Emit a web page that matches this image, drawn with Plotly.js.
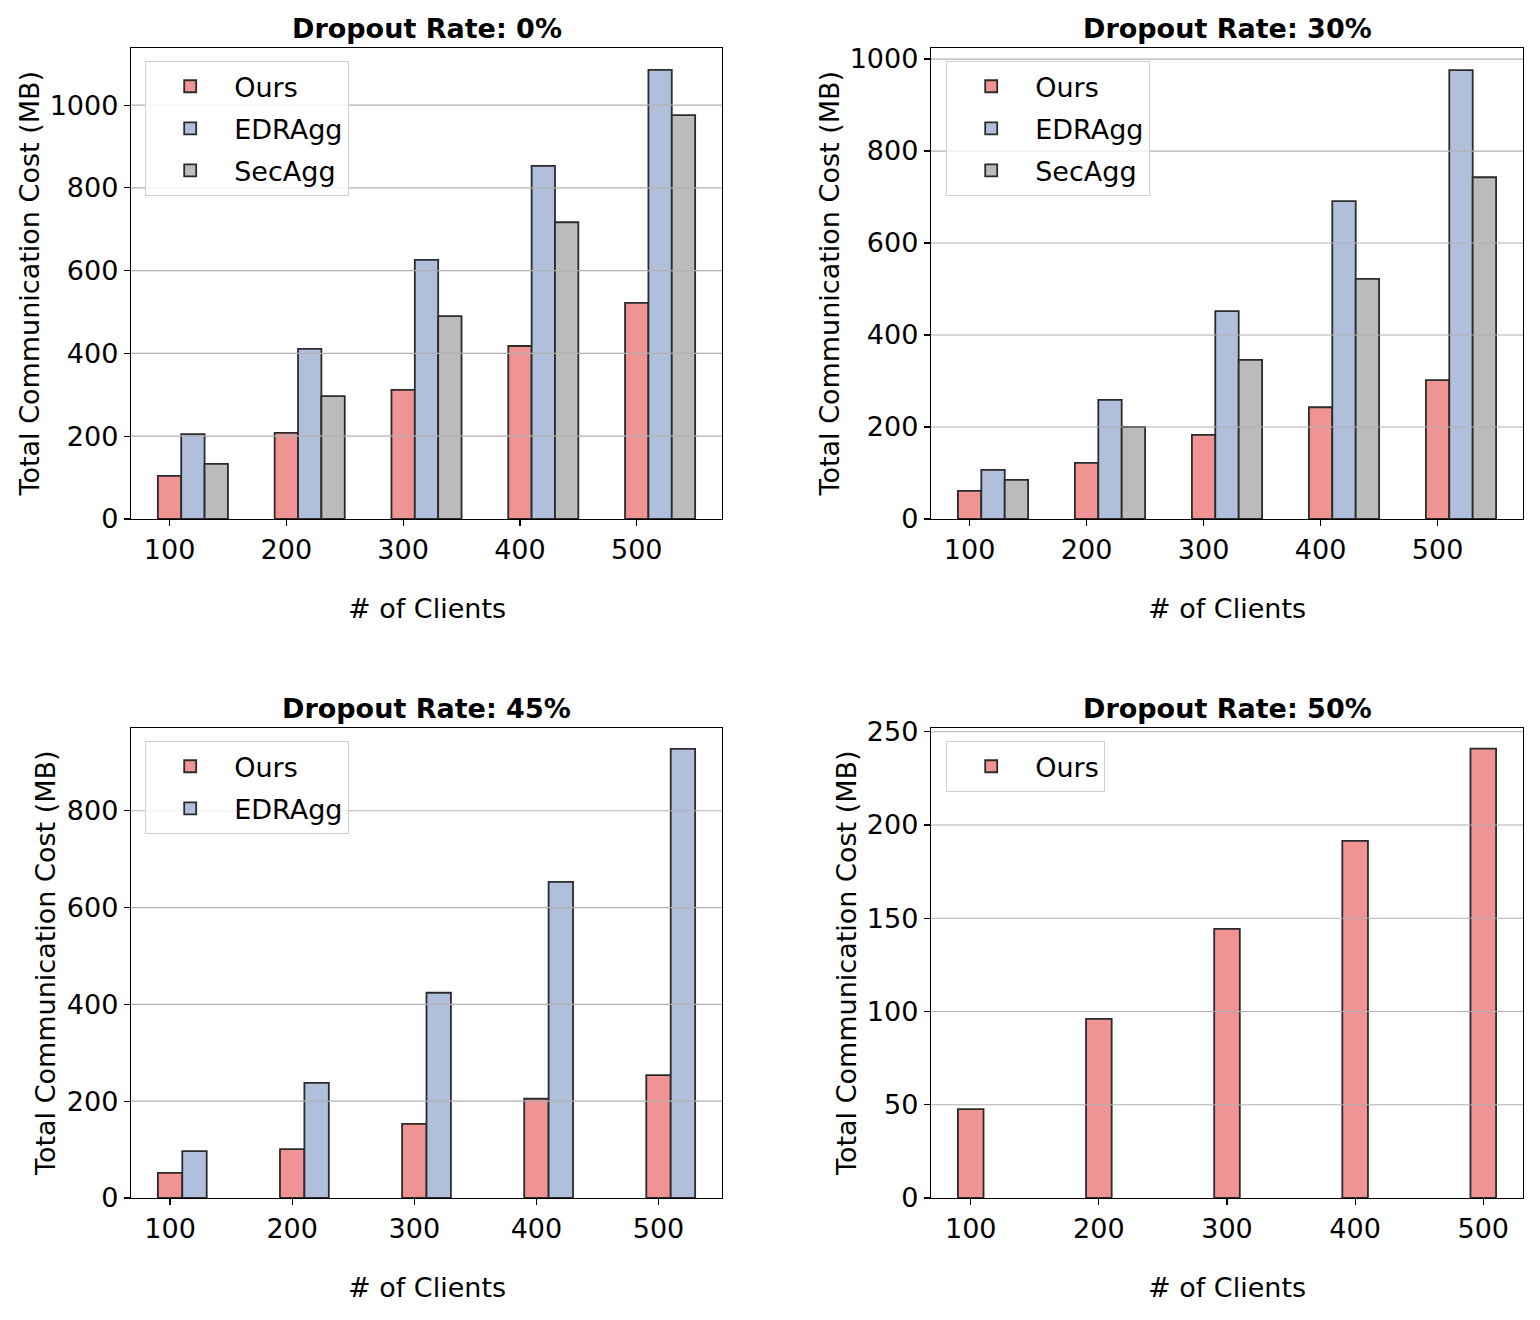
<!DOCTYPE html>
<html><head><meta charset="utf-8">
<script src="https://cdn.plot.ly/plotly-3.0.1.min.js"></script>
<style>body{margin:0;background:#fff}</style>
</head><body><div id="chart" style="width:1540px;height:1320px"></div>
<script>
// ---- data ----
const clientLabels = ['100', '200', '300', '400', '500'];
const seriesNames = ['Ours', 'EDRAgg', 'SecAgg'];
const ours0 = [104, 208, 312, 418, 522];
const edr0 = [205, 411, 626, 853, 1085];
const sec0 = [133, 297, 490, 717, 976];
const ours30 = [61, 122, 183, 243, 302];
const edr30 = [107, 259, 452, 691, 976];
const sec30 = [85, 200, 346, 522, 743];
const ours45 = [52, 101, 153, 205, 254];
const edr45 = [97, 238, 424, 653, 928];
const ours50 = [47.7, 96, 144.3, 191.5, 240.9];
const panelTitles = ['Dropout Rate: 0%', 'Dropout Rate: 30%', 'Dropout Rate: 45%', 'Dropout Rate: 50%'];

// ---- styling ----
const W = 1540, H = 1320;
const FONT = 'DejaVu Sans, Liberation Sans, sans-serif';
const FS = 27;
const colors = ['#EF9393', '#B0C0DC', '#BBBBBB'];
const px = x => x / W;
const py = y => 1 - y / H;
const idx = clientLabels.map((_, i) => i);

const panels = [
  {n: '', L: 131, R: 722, T: 48, B: 519, xr: [-0.33, 4.73], yr: [0, 1138], dt: 200,
   data: [ours0, edr0, sec0], lx: 145, ly: 61, ytx: 30},
  {n: '2', L: 931, R: 1523, T: 48, B: 519, xr: [-0.33, 4.73], yr: [0, 1024], dt: 200,
   data: [ours30, edr30, sec30], lx: 946, ly: 61, ytx: 830},
  {n: '3', L: 131, R: 722, T: 728, B: 1198, xr: [-0.32, 4.52], yr: [0, 971], dt: 200,
   data: [ours45, edr45], lx: 145, ly: 741, ytx: 47},
  {n: '4', L: 931, R: 1523, T: 728, B: 1198, xr: [-0.31, 4.31], yr: [0, 252], dt: 50,
   data: [ours50], lx: 946, ly: 741, ytx: 848}
];

const traces = [];
const layout = {
  width: W, height: H, margin: {l: 0, r: 0, t: 0, b: 0},
  paper_bgcolor: '#fff', plot_bgcolor: '#fff',
  barmode: 'overlay', font: {family: FONT, size: FS, color: '#000'},
  annotations: [], shapes: []
};

panels.forEach((p, pi) => {
  const xa = 'x' + p.n, ya = 'y' + p.n;
  const leg = 'legend' + p.n;
  p.data.forEach((vals, k) => {
    traces.push({
      type: 'bar', x: idx, y: vals, name: seriesNames[k],
      xaxis: xa, yaxis: ya, legend: leg, legendgroup: leg + k,
      width: 0.2, offset: -0.1 + 0.2 * k,
      marker: {color: colors[k], line: {color: '#2b2b2b', width: 1.8}},
      hoverinfo: 'x+y'
    });
  });
  layout['xaxis' + p.n] = {
    domain: [px(p.L), px(p.R)], anchor: ya, range: p.xr,
    tickmode: 'array', tickvals: idx, ticktext: clientLabels,
    showgrid: false, zeroline: false, showline: true, mirror: true,
    linecolor: '#000', linewidth: 1.2, ticks: 'outside', ticklen: 6, tickwidth: 1.2,
    tickcolor: '#000', tickfont: {family: FONT, size: FS, color: '#000'}, fixedrange: true
  };
  layout['yaxis' + p.n] = {
    domain: [py(p.B), py(p.T)], anchor: xa, range: p.yr, dtick: p.dt, tick0: 0,
    showgrid: false, zeroline: false, showline: true, mirror: true,
    linecolor: '#000', linewidth: 1.2, ticks: 'outside', ticklen: 6, tickwidth: 1.2,
    tickcolor: '#000', tickfont: {family: FONT, size: FS, color: '#000'}, fixedrange: true
  };
  // horizontal grid lines drawn above bars (matplotlib default)
  for (let v = p.dt; v < p.yr[1]; v += p.dt) {
    layout.shapes.push({type: 'line', xref: xa + ' domain', x0: 0, x1: 1, yref: ya, y0: v, y1: v,
      line: {color: '#b0b0b0', width: 1.2}, layer: 'above'});
  }
  layout[leg] = {
    x: px(p.lx), y: py(p.ly), xanchor: 'left', yanchor: 'top', xref: 'paper', yref: 'paper',
    bgcolor: 'rgba(255,255,255,0.8)', bordercolor: '#d0d0d0', borderwidth: 1.2,
    font: {family: FONT, size: FS, color: '#000'}, tracegroupgap: 4, itemwidth: 78
  };
  // panel title
  layout.annotations.push({
    text: '<b>' + panelTitles[pi] + '</b>', xref: 'paper', yref: 'paper',
    x: px((p.L + p.R) / 2), y: py(p.T - 20), xanchor: 'center', yanchor: 'middle',
    showarrow: false, font: {family: FONT, size: FS, color: '#000'}
  });
  // x axis title
  layout.annotations.push({
    text: '# of Clients', xref: 'paper', yref: 'paper',
    x: px((p.L + p.R) / 2), y: py(p.B + 89), xanchor: 'center', yanchor: 'middle',
    showarrow: false, font: {family: FONT, size: FS, color: '#000'}
  });
  // y axis title
  layout.annotations.push({
    text: 'Total Communication Cost (MB)', xref: 'paper', yref: 'paper', textangle: -90,
    x: px(p.ytx - 1), y: py((p.T + p.B) / 2), xanchor: 'center', yanchor: 'middle',
    showarrow: false, font: {family: FONT, size: FS, color: '#000'}
  });
});

Plotly.newPlot('chart', traces, layout, {displayModeBar: false, staticPlot: true});
</script>
</body></html>
